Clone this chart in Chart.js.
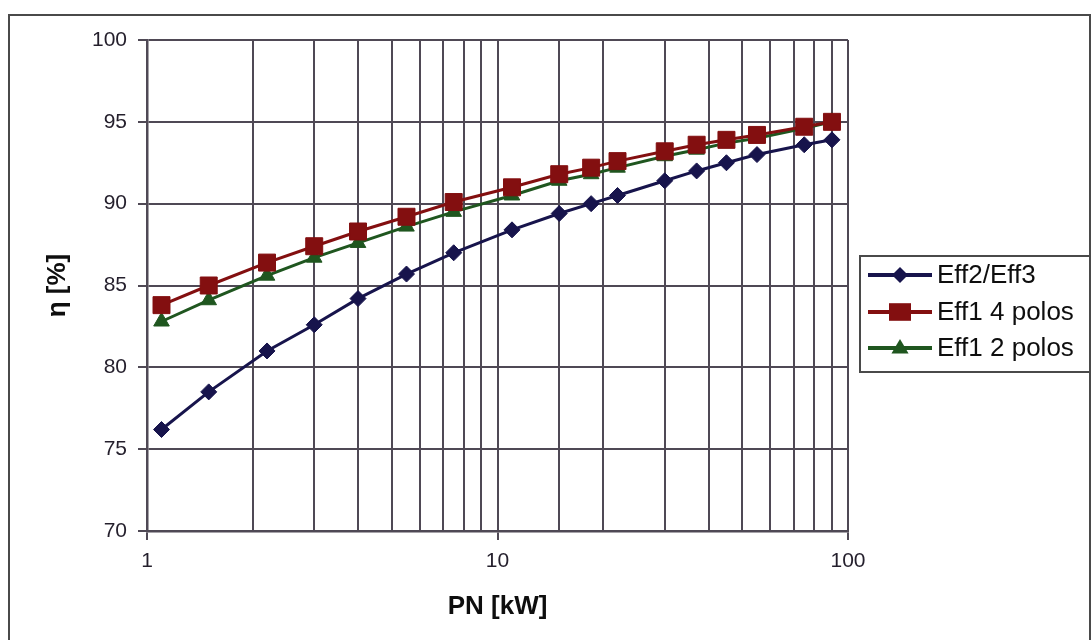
<!DOCTYPE html>
<html><head><meta charset="utf-8">
<script src="https://cdn.jsdelivr.net/npm/chart.js@4.4.1/dist/chart.umd.min.js"></script>
<style>html,body{margin:0;padding:0;background:#fff}</style>
</head><body>
<canvas id="c" width="1092" height="640"></canvas>
<script>
// ---- data ----
const powers   = [1.1, 1.5, 2.2, 3, 4, 5.5, 7.5, 11, 15, 18.5, 22, 30, 37, 45, 55, 75, 90];
const eff2     = [76.2, 78.5, 81.0, 82.6, 84.2, 85.7, 87.0, 88.4, 89.4, 90.0, 90.5, 91.4, 92.0, 92.5, 93.0, 93.6, 93.9];
const eff1_4p  = [83.8, 85.0, 86.4, 87.4, 88.3, 89.2, 90.1, 91.0, 91.8, 92.2, 92.6, 93.2, 93.6, 93.9, 94.2, 94.7, 95.0];
const eff1_2p  = [82.8, 84.1, 85.6, 86.7, 87.6, 88.6, 89.5, 90.5, 91.4, 91.8, 92.2, 92.9, 93.3, 93.7, 94.0, 94.6, 95.0];
const seriesNames = ['Eff2/Eff3', 'Eff1 4 polos', 'Eff1 2 polos'];
const xLabelValues = [1, 10, 100];
const yMin = 70, yMax = 100, yStep = 5;
const xTitle = 'PN [kW]';
const yTitle = 'η [%]';

// ---- styles ----
const colors = ['#17144c', '#830f10', '#1f561f'];
const shapes = ['rectRot', 'rect', 'triangle'];
const radii  = [8, 12, 9];
const gridColor = '#4f4955';
const FONT = '"Liberation Sans", Arial, sans-serif';

const toPts = arr => powers.map((p, i) => ({x: p, y: arr[i]}));
const seriesData = [eff2, eff1_4p, eff1_2p];

const datasets = seriesData.map((arr, i) => ({
  label: seriesNames[i],
  data: toPts(arr),
  borderColor: colors[i],
  backgroundColor: colors[i],
  borderWidth: 3,
  pointStyle: shapes[i],
  pointRadius: radii[i],
  pointHoverRadius: radii[i],
  pointBorderWidth: 1,
  tension: 0
}));

function drawMarker(ctx, shape, x, y, r, color) {
  ctx.save();
  ctx.fillStyle = color;
  ctx.beginPath();
  if (shape === 'rectRot') {
    ctx.moveTo(x, y - r); ctx.lineTo(x + r, y); ctx.lineTo(x, y + r); ctx.lineTo(x - r, y);
  } else if (shape === 'rect') {
    ctx.rect(x - r, y - r * 0.8, 2 * r, 1.6 * r);
  } else {
    ctx.moveTo(x, y - r); ctx.lineTo(x + r * 0.95, y + r * 0.6); ctx.lineTo(x - r * 0.95, y + r * 0.6);
  }
  ctx.closePath();
  ctx.fill();
  ctx.restore();
}

const framePlugin = {
  id: 'frame',
  beforeDraw(chart) {
    const ctx = chart.ctx;
    ctx.save();
    ctx.fillStyle = '#fff';
    ctx.fillRect(0, 0, chart.width, chart.height);
    ctx.strokeStyle = '#4a4a4a';
    ctx.lineWidth = 2;
    ctx.strokeRect(9, 15, 1081, 640);
    ctx.restore();
  },
  afterDraw(chart) {
    const ctx = chart.ctx;
    ctx.save();
    ctx.strokeStyle = '#4a4a4a';
    ctx.lineWidth = 2;
    ctx.strokeRect(860, 256, 230, 116);
    const rowsY = [275, 312, 348];
    const legR = [8, 11, 9];
    seriesNames.forEach((name, i) => {
      const y = rowsY[i];
      ctx.strokeStyle = colors[i];
      ctx.lineWidth = 4;
      ctx.beginPath(); ctx.moveTo(868, y); ctx.lineTo(932, y); ctx.stroke();
      drawMarker(ctx, shapes[i], 900, y, legR[i], colors[i]);
      ctx.fillStyle = '#0e0e0e';
      ctx.font = '26px ' + FONT;
      ctx.textBaseline = 'middle';
      ctx.textAlign = 'left';
      ctx.fillText(name, 937, y + 1);
    });
    ctx.restore();
  }
};

new Chart(document.getElementById('c'), {
  type: 'line',
  data: { datasets },
  options: {
    responsive: false,
    animation: false,
    events: [],
    layout: { padding: { left: 38, right: 244, top: 40, bottom: 14 } },
    plugins: { legend: { display: false }, tooltip: { enabled: false } },
    scales: {
      x: {
        type: 'logarithmic',
        min: 1, max: 100,
        afterFit(s) { s.height = 95; },
        border: { color: gridColor, width: 2.5 },
        grid: {
          color: gridColor,
          lineWidth: 2,
          tickLength: 9,
          tickColor: c => (c.tick && xLabelValues.includes(c.tick.value)) ? gridColor : 'rgba(0,0,0,0)'
        },
        ticks: {
          autoSkip: false,
          maxRotation: 0,
          padding: 9,
          color: '#241f2c',
          font: { family: FONT, size: 21 },
          callback: v => xLabelValues.includes(v) ? String(v) : ''
        },
        title: {
          display: true, text: xTitle, color: '#0e0e0e',
          font: { family: FONT, size: 26, weight: 'bold' }
        }
      },
      y: {
        min: yMin, max: yMax,
        afterFit(s) { s.width = 109; },
        border: { color: gridColor, width: 2.5 },
        grid: { color: gridColor, lineWidth: 2, tickLength: 9, tickColor: gridColor },
        ticks: {
          stepSize: yStep,
          padding: 11,
          color: '#241f2c',
          font: { family: FONT, size: 21 }
        },
        title: {
          display: true, text: yTitle, color: '#0e0e0e',
          font: { family: FONT, size: 26, weight: 'bold' }
        }
      }
    }
  },
  plugins: [framePlugin]
});
</script>
</body></html>
